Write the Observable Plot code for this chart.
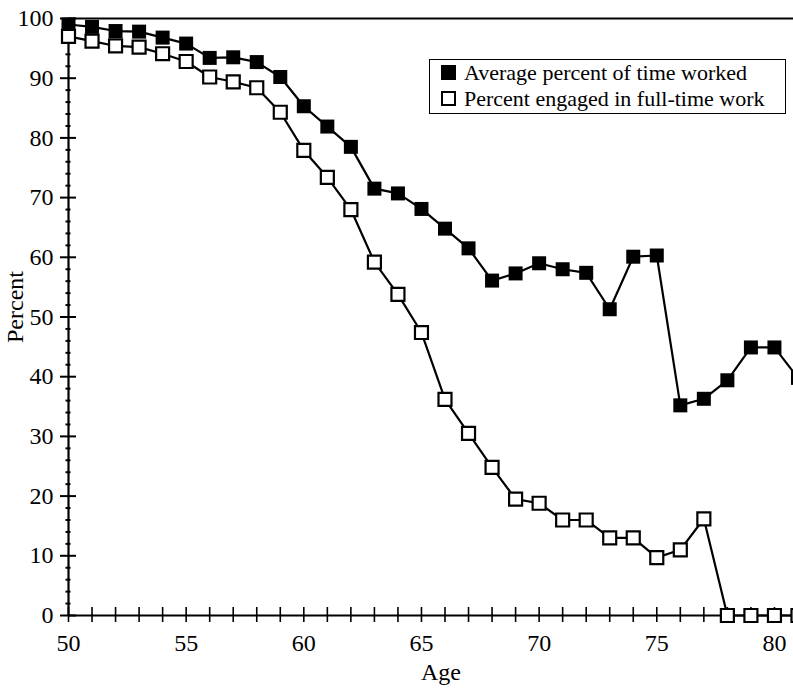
<!DOCTYPE html>
<html>
<head>
<meta charset="utf-8">
<script src="https://cdn.jsdelivr.net/npm/d3@7"></script>
<script src="https://cdn.jsdelivr.net/npm/@observablehq/plot@0.6"></script>
<style>
  html, body { margin: 0; padding: 0; background: white; }
  #wrap { position: relative; width: 793px; height: 688px; overflow: hidden; }
  #wrap svg { overflow: hidden; }
  .legend {
    position: absolute; left: 429px; top: 59px; width: 344px;
    border: 1.5px solid black; background: white;
    font-family: "Liberation Serif", "Times New Roman", serif; font-size: 22px;
    line-height: 26px; padding: 0 0 1px 11px; color: black;
  }
  .legend .row { white-space: nowrap; }
  .legend .sw { display: inline-block; width: 15px; height: 15px; box-sizing: border-box; margin-right: 8px; vertical-align: baseline; }
  .legend .filled { background: black; }
  .legend .open { border: 2px solid black; background: white; }
</style>
</head>
<body>
<div id="wrap"></div>
<script>
const ages = [50,51,52,53,54,55,56,57,58,59,60,61,62,63,64,65,66,67,68,69,70,71,72,73,74,75,76,77,78,79,80,81];
const timeWorked = [99.0,98.6,97.9,97.8,96.8,95.8,93.4,93.5,92.7,90.2,85.3,81.9,78.5,71.5,70.7,68.1,64.8,61.5,56.1,57.3,59.0,58.0,57.4,51.3,60.1,60.3,35.2,36.3,39.4,44.9,44.9,39.8];
const fullTime = [97.0,96.2,95.4,95.2,94.1,92.8,90.2,89.4,88.4,84.3,77.9,73.4,68.0,59.2,53.8,47.4,36.2,30.5,24.8,19.5,18.8,16.0,16.0,13.0,13.0,9.7,11.0,16.2,0,0,0,0];
const seriesNames = ["Average percent of time worked", "Percent engaged in full-time work"];
const yMajorTicks = [0,10,20,30,40,50,60,70,80,90,100];
const yMinorTicks = [2,4,6,8,12,14,16,18,22,24,26,28,32,34,36,38,42,44,46,48,52,54,56,58,62,64,66,68,72,74,76,78,82,84,86,88,92,94,96,98];
const xMinorTicks = [50,51,52,53,54,55,56,57,58,59,60,61,62,63,64,65,66,67,68,69,70,71,72,73,74,75,76,77,78,79,80];
const xLabelTicks = [50,55,60,65,70,75,80];

const worked = ages.map((a, i) => ({age: a, v: timeWorked[i]}));
const full = ages.map((a, i) => ({age: a, v: fullTime[i]}));
const blank = () => "";

const chart = Plot.plot({
  width: 793, height: 688,
  marginLeft: 68, marginRight: 0, marginTop: 18, marginBottom: 73,
  style: {fontFamily: "'Liberation Serif', 'Times New Roman', serif", fontSize: "24px", color: "black", background: "white"},
  x: {domain: [50, 80.81], label: null},
  y: {domain: [0, 100], label: null},
  marks: [
    Plot.ruleY([100], {stroke: "black", strokeWidth: 2}),
    Plot.ruleY([0], {stroke: "black", strokeWidth: 2}),
    Plot.ruleX([50], {stroke: "black", strokeWidth: 2.2}),
    Plot.axisY(yMajorTicks, {tickSize: 16, dx: 8, tickFormat: blank, strokeWidth: 2, label: null}),
    Plot.axisY(yMajorTicks, {tickSize: 0, tickPadding: 2, dx: -13, label: null, fontSize: 24}),
    Plot.axisY(yMinorTicks, {tickSize: 5, dx: 2.5, tickFormat: blank, strokeWidth: 2, label: null}),
    Plot.axisX(xMinorTicks, {tickSize: 15, dy: -8, tickFormat: blank, strokeWidth: 1.6, label: null}),
    Plot.axisX(xLabelTicks, {tickSize: 0, tickPadding: 18, label: null, fontSize: 24}),
    Plot.text(["Age"], {frameAnchor: "bottom", textAnchor: "middle", dx: 10, dy: 57, lineAnchor: "middle", fontSize: 24}),
    Plot.text(["Percent"], {frameAnchor: "left", textAnchor: "middle", rotate: -90, dx: -53, dy: -10, lineAnchor: "middle", fontSize: 24}),
    Plot.line(worked, {x: "age", y: "v", stroke: "black", strokeWidth: 2.2}),
    Plot.dot(worked, {x: "age", y: "v", symbol: "square", r: 7.9, fill: "black", stroke: "none"}),
    Plot.line(full, {x: "age", y: "v", stroke: "black", strokeWidth: 2.2}),
    Plot.dot(full, {x: "age", y: "v", symbol: "square", r: 7.33, fill: "white", stroke: "black", strokeWidth: 2.2})
  ]
});

const wrap = document.getElementById("wrap");
wrap.appendChild(chart);
const legend = document.createElement("div");
legend.className = "legend";
legend.innerHTML =
  `<div class="row"><span class="sw filled"></span>${seriesNames[0]}</div>` +
  `<div class="row"><span class="sw open"></span>${seriesNames[1]}</div>`;
wrap.appendChild(legend);
</script>
</body>
</html>
